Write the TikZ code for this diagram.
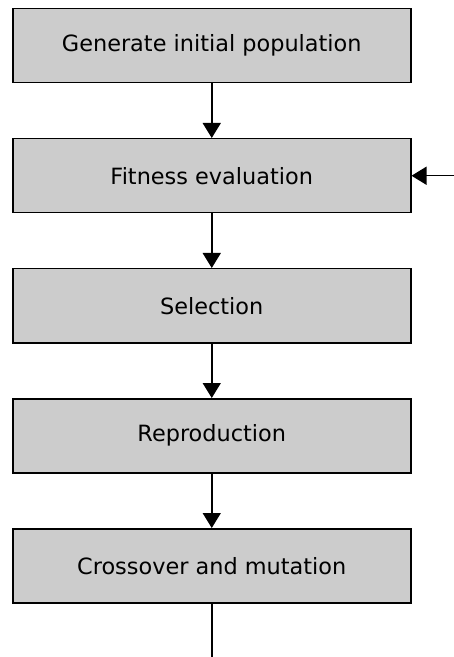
\documentclass[tikz,border=0pt]{standalone}
\usepackage{fontspec}
\setmainfont{DejaVu Sans}
\usetikzlibrary{arrows.meta,positioning}
\tikzset{
  stage/.style={rectangle,draw,line width=0.75pt,fill=gray!40,minimum width=199pt,minimum height=37pt,inner sep=0pt,font=\fontsize{11.2}{13}\selectfont},
  ar/.style={-{Triangle[length=7.5pt,width=9pt]},line width=0.75pt},
  ln/.style={line width=0.75pt},
}
\begin{document}
\begin{tikzpicture}[node distance=27.25pt]
  \useasboundingbox (0,0) rectangle (227pt,-328.5pt);
  % stages, top to bottom
  \node[stage,anchor=north west] (gen) at (6pt,-4pt) {Generate initial population};
  \node[stage,below=of gen] (fit) {Fitness evaluation};
  \node[stage,below=of fit] (sel) {Selection};
  \node[stage,below=of sel] (rep) {Reproduction};
  \node[stage,below=of rep] (cro) {Crossover and mutation};
  % loose ends
  \coordinate[right=22pt of fit.east] (back);
  \coordinate[below=30pt of cro.south] (tail);
  % connectors
  \draw[ar] (gen) -- (fit);
  \draw[ar] (fit) -- (sel);
  \draw[ar] (sel) -- (rep);
  \draw[ar] (rep) -- (cro);
  \draw[ln] (cro) -- (tail);
  \draw[ar] (back) -- (fit);
\end{tikzpicture}
\end{document}
